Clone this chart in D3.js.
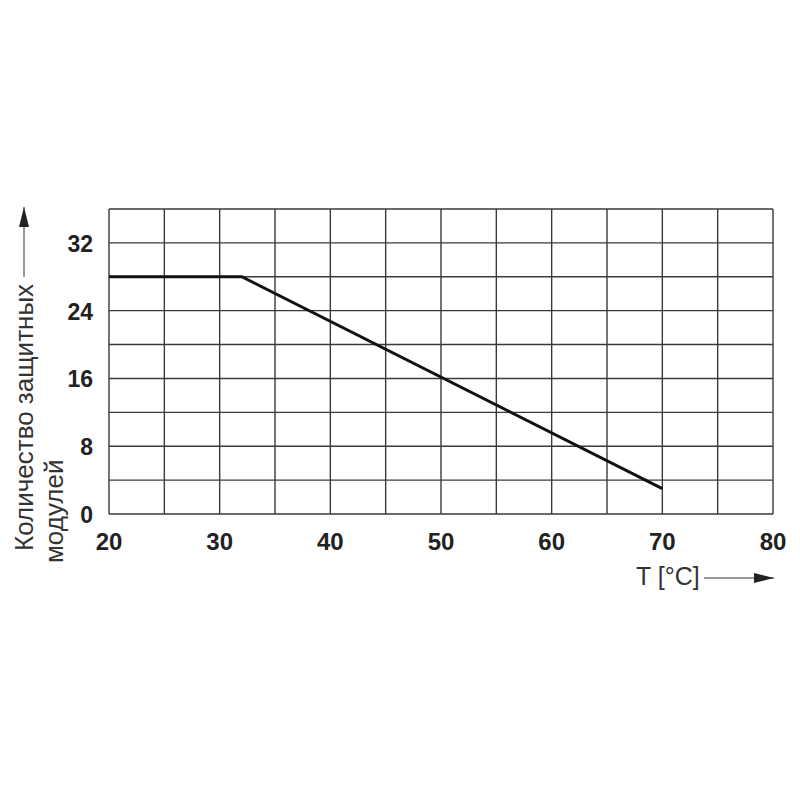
<!DOCTYPE html>
<html>
<head>
<meta charset="utf-8">
<script src="https://cdn.jsdelivr.net/npm/d3@7"></script>
<style>
  body { margin: 0; background: #fff; }
  text { font-family: "Liberation Sans", Arial, sans-serif; }
</style>
</head>
<body>
<script>
const width = 800;
const height = 800;

// data
const temps = [20, 32, 70];
const modules = [28, 28, 3];
const xTicks = [20, 30, 40, 50, 60, 70, 80];
const yTicks = [0, 8, 16, 24, 32];
const xGrid = d3.range(20, 81, 5);
const yGrid = d3.range(0, 37, 4);

const margin = { left: 109, top: 209, right: 27, bottom: 286 };

const svg = d3.select("body")
    .append("svg")
    .attr("width", width)
    .attr("height", height);

const x = d3.scaleLinear()
    .domain([20, 80])
    .range([margin.left, width - margin.right]);
const y = d3.scaleLinear()
    .domain([0, 36])
    .range([height - margin.bottom, margin.top]);

const grid = svg.append("g")
    .attr("stroke", "#3a3a3a")
    .attr("stroke-width", 1.4);

grid.selectAll(".vx")
    .data(xGrid)
    .enter()
    .append("line")
    .attr("x1", d => x(d))
    .attr("x2", d => x(d))
    .attr("y1", y(0))
    .attr("y2", y(36));

grid.selectAll(".hy")
    .data(yGrid)
    .enter()
    .append("line")
    .attr("x1", x(20))
    .attr("x2", x(80))
    .attr("y1", d => y(d))
    .attr("y2", d => y(d));

const pts = temps.map((t, i) => [t, modules[i]]);

svg.append("path")
    .datum(pts)
    .attr("fill", "none")
    .attr("stroke", "#111")
    .attr("stroke-width", 3)
    .attr("d", d3.line().x(d => x(d[0])).y(d => y(d[1])));

// tick labels
svg.selectAll(".xt")
    .data(xTicks)
    .enter()
    .append("text")
    .attr("x", d => x(d))
    .attr("y", 550)
    .attr("text-anchor", "middle")
    .attr("font-size", 24)
    .attr("font-weight", "bold")
    .attr("fill", "#222")
    .text(d => d);

svg.selectAll(".yt")
    .data(yTicks)
    .enter()
    .append("text")
    .attr("x", 93)
    .attr("y", d => y(d) + 9)
    .attr("text-anchor", "end")
    .attr("font-size", 23)
    .attr("font-weight", "bold")
    .attr("fill", "#222")
    .text(d => d);

// arrow marker
svg.append("defs")
    .append("marker")
    .attr("id", "arrow")
    .attr("viewBox", "0 0 10 10")
    .attr("preserveAspectRatio", "none")
    .attr("refX", 10)
    .attr("refY", 5)
    .attr("markerWidth", 20)
    .attr("markerHeight", 10)
    .attr("markerUnits", "userSpaceOnUse")
    .attr("orient", "auto")
    .append("path")
    .attr("d", "M0,0 L10,5 L0,10 Z")
    .attr("fill", "#222");

// y label
svg.append("text")
    .attr("transform", "translate(33,551) rotate(-90)")
    .attr("font-size", 26)
    .attr("fill", "#333")
    .text("Количество защитных");
svg.append("text")
    .attr("transform", "translate(63,563) rotate(-90)")
    .attr("font-size", 26)
    .attr("fill", "#333")
    .text("модулей");

svg.append("line")
    .attr("x1", 24).attr("x2", 24)
    .attr("y1", 277).attr("y2", 207)
    .attr("stroke", "#333")
    .attr("stroke-width", 1)
    .attr("marker-end", "url(#arrow)");

// x label
svg.append("text")
    .attr("x", 636)
    .attr("y", 585)
    .attr("font-size", 25)
    .attr("fill", "#333")
    .text("T [°C]");

svg.append("line")
    .attr("x1", 704).attr("x2", 774)
    .attr("y1", 578).attr("y2", 578)
    .attr("stroke", "#333")
    .attr("stroke-width", 1)
    .attr("marker-end", "url(#arrow)");
</script>
</body>
</html>
